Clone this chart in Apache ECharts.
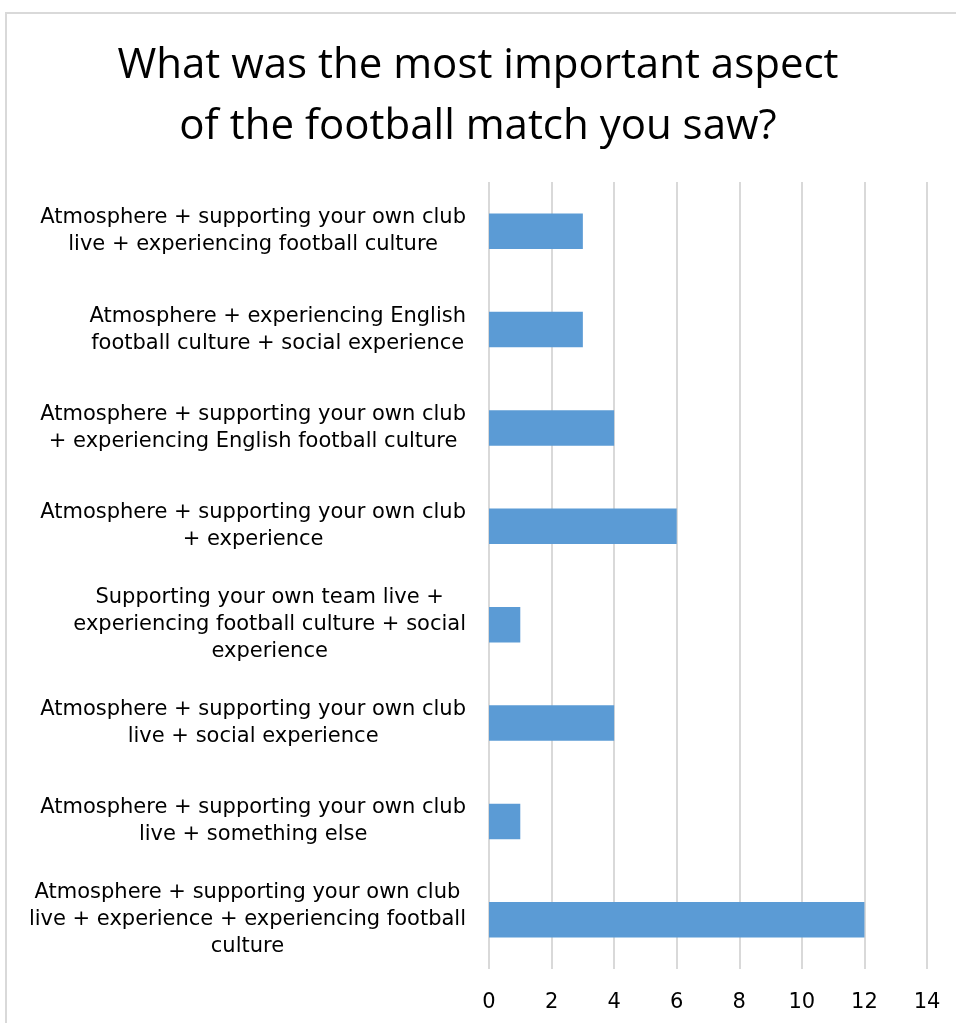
<!DOCTYPE html>
<html>
<head>
<meta charset="utf-8">
<script src="https://cdn.jsdelivr.net/npm/echarts@6/dist/echarts.min.js"></script>
<style>
  html, body { margin: 0; padding: 0; background: #fff; }
  #frame { position: absolute; left: 5px; top: 12px; width: 1000px; height: 1100px;
           border: 2px solid #d9d9d9; box-sizing: border-box; }
  #chart { position: absolute; left: 0; top: 0; width: 956px; height: 1023px; }
</style>
</head>
<body>
<div id="frame"></div>
<div id="chart"></div>
<script>
// Survey answers, listed top to bottom as shown
const categories = [
  'Atmosphere + supporting your own club\nlive + experiencing football culture',
  'Atmosphere + experiencing English\nfootball culture + social experience',
  'Atmosphere + supporting your own club\n+ experiencing English football culture',
  'Atmosphere + supporting your own club\n+ experience',
  'Supporting your own team live +\nexperiencing football culture + social\nexperience',
  'Atmosphere + supporting your own club\nlive + social experience',
  'Atmosphere + supporting your own club\nlive + something else',
  'Atmosphere + supporting your own club\nlive + experience + experiencing football\nculture'
];
const counts = [3, 3, 4, 6, 1, 4, 1, 12];
const titleText = 'What was the most important aspect\nof the football match you saw?';

const chart = echarts.init(document.getElementById('chart'), null, { renderer: 'canvas' });

chart.setOption({
  backgroundColor: 'transparent',
  animation: false,
  title: {
    text: titleText,
    left: 'center',
    top: 31,
    textStyle: {
      fontFamily: 'Open Sans',
      fontWeight: 'normal',
      fontSize: 42,
      lineHeight: 61,
      color: '#000'
    }
  },
  grid: { left: 489, right: 29, top: 182, bottom: 54, containLabel: false },
  xAxis: {
    type: 'value',
    min: 0,
    max: 14,
    interval: 2,
    axisLine: { show: false },
    axisTick: { show: false },
    splitLine: { lineStyle: { color: '#d9d9d9', width: 2 } },
    axisLabel: { color: '#000', fontFamily: 'DejaVu Sans', fontSize: 21, margin: 23 }
  },
  yAxis: {
    type: 'category',
    inverse: true,
    data: categories,
    axisLine: { show: false },
    axisTick: { show: false },
    axisLabel: {
      align: 'right',
      margin: 23,
      color: '#000',
      fontFamily: 'DejaVu Sans',
      fontSize: 21,
      lineHeight: 27,
      // each line centred within the label block
      formatter: v => v.split('\n').map(s => '{c|' + s + '}').join('\n'),
      rich: { c: { align: 'center', fontFamily: 'DejaVu Sans', fontSize: 21, lineHeight: 27, color: '#000' } }
    }
  },
  series: [{
    type: 'bar',
    data: counts,
    barWidth: '36%',
    itemStyle: { color: '#5b9bd5' }
  }]
});
</script>
</body>
</html>
